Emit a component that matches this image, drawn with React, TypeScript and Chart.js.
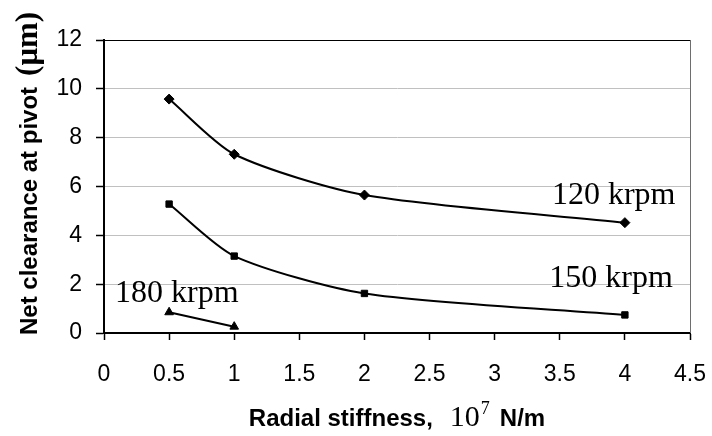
import React, { useEffect, useRef } from "react";
import { Chart, registerables } from "chart.js";

Chart.register(...registerables);

// Radial stiffness (10^7 N/m) and net clearance at the pivot (µm) per speed
const stiffness = [0.5, 1, 2, 4];
const clearance120 = [9.58, 7.32, 5.65, 4.52];
const clearance150 = [5.28, 3.15, 1.62, 0.74];
const stiffness180 = [0.5, 1];
const clearance180 = [0.85, 0.26];
const speedNames = ["120 krpm", "150 krpm", "180 krpm"];

const xMin = 0;
const xMax = 4.5;
const xStep = 0.5;
const yMin = 0;
const yMax = 12;
const yStep = 2;

const SANS = "Arial, 'Liberation Sans', sans-serif";
const SERIF = "'Times New Roman', 'Liberation Serif', serif";

// Where each speed label sits, in data units (left edge, baseline)
const speedLabelAnchors = [
  { x: 3.44, y: 5.28 },
  { x: 3.42, y: 1.9 },
  { x: 0.085, y: 1.26 },
];

const toPoints = (xs: number[], ys: number[]) => xs.map((x, i) => ({ x, y: ys[i] }));

const decorations = {
  id: "decorations",
  afterDraw(chart: any) {
    const { ctx, chartArea, scales } = chart;
    const xs = scales.x;
    const ys = scales.y;
    ctx.save();

    // Frame: black top edge, grey right edge
    ctx.lineWidth = 1;
    ctx.strokeStyle = "#000";
    ctx.beginPath();
    ctx.moveTo(chartArea.left, chartArea.top + 0.5);
    ctx.lineTo(chartArea.right, chartArea.top + 0.5);
    ctx.stroke();
    ctx.strokeStyle = "#6e6e6e";
    ctx.beginPath();
    ctx.moveTo(chartArea.right + 0.5, chartArea.top);
    ctx.lineTo(chartArea.right + 0.5, chartArea.bottom);
    ctx.stroke();

    // Speed labels beside each curve
    ctx.fillStyle = "#000";
    ctx.textBaseline = "alphabetic";
    ctx.textAlign = "left";
    ctx.font = `32px ${SERIF}`;
    speedNames.forEach((name, i) => {
      const a = speedLabelAnchors[i];
      ctx.fillText(name, xs.getPixelForValue(a.x), ys.getPixelForValue(a.y));
    });

    // X axis title: "Radial stiffness,  10^7 N/m"
    const boldSans = `bold 24px ${SANS}`;
    const parts = [
      { text: "Radial stiffness,", font: boldSans, rise: 0, gap: 17 },
      { text: "10", font: `30px ${SERIF}`, rise: 0, gap: 1 },
      { text: "7", font: `18px ${SERIF}`, rise: 12, gap: 10 },
      { text: "N/m", font: boldSans, rise: 0, gap: 0 },
    ];
    let total = 0;
    parts.forEach((p) => {
      ctx.font = p.font;
      total += ctx.measureText(p.text).width + p.gap;
    });
    let cx = (chartArea.left + chartArea.right) / 2 - total / 2;
    const baseX = 426;
    parts.forEach((p) => {
      ctx.font = p.font;
      ctx.fillText(p.text, cx, baseX - p.rise);
      cx += ctx.measureText(p.text).width + p.gap;
    });

    // Y axis title, rotated
    ctx.translate(37, 335);
    ctx.rotate(-Math.PI / 2);
    ctx.font = boldSans;
    const main = "Net clearance at pivot";
    ctx.fillText(main, 0, 0);
    const mainW = ctx.measureText(main).width;
    ctx.font = `bold 31px ${SERIF}`;
    ctx.fillText("(\u03bcm)", mainW + 11, 0);

    ctx.restore();
  },
};

export default function App() {
  const canvasRef = useRef<HTMLCanvasElement | null>(null);

  useEffect(() => {
    if (!canvasRef.current) return;
    const lineStyle = {
      borderColor: "#000",
      backgroundColor: "#000",
      borderWidth: 2,
      pointBorderColor: "#000",
      pointBackgroundColor: "#000",
      pointBorderWidth: 1,
      tension: 0.25,
      fill: false,
    };
    const chart = new Chart(canvasRef.current, {
      type: "line",
      data: {
        datasets: [
          {
            label: speedNames[0],
            data: toPoints(stiffness, clearance120),
            pointStyle: "rectRot",
            pointRadius: 5,
            ...lineStyle,
          },
          {
            label: speedNames[1],
            data: toPoints(stiffness, clearance150),
            pointStyle: "rect",
            pointRadius: 4.5,
            ...lineStyle,
          },
          {
            label: speedNames[2],
            data: toPoints(stiffness180, clearance180),
            pointStyle: "triangle",
            pointRadius: 5,
            ...lineStyle,
          },
        ],
      },
      options: {
        animation: false,
        responsive: true,
        maintainAspectRatio: false,
        layout: { padding: { left: 0, top: 40, right: 22, bottom: 0 } },
        plugins: {
          legend: { display: false },
          tooltip: { enabled: false },
          title: { display: false },
        },
        scales: {
          x: {
            type: "linear",
            min: xMin,
            max: xMax,
            afterFit: (s: any) => {
              s.height = 103;
              s.paddingLeft = 0;
              s.paddingRight = 0;
            },
            ticks: {
              stepSize: xStep,
              color: "#000",
              padding: 21,
              font: { family: SANS, size: 23 },
              callback: (v: any) => String(v),
            },
            grid: {
              drawOnChartArea: false,
              drawTicks: true,
              tickLength: 7,
              tickColor: "#000",
              tickWidth: 1.5,
            },
            border: { display: true, color: "#000", width: 2 },
          },
          y: {
            type: "linear",
            min: yMin,
            max: yMax,
            afterFit: (s: any) => {
              s.width = 104;
              s.paddingTop = 0;
              s.paddingBottom = 0;
            },
            ticks: {
              stepSize: yStep,
              color: "#000",
              padding: 14,
              font: { family: SANS, size: 23 },
              callback: (v: any) => String(v),
            },
            grid: {
              color: (c: any) => (c.tick && c.tick.value === yMax ? "#000" : "#c0c0c0"),
              lineWidth: 1,
              drawTicks: true,
              tickLength: 8,
              tickColor: "#000",
              tickWidth: 1.5,
            },
            border: { display: true, color: "#000", width: 2 },
          },
        },
      },
      plugins: [decorations],
    });
    return () => chart.destroy();
  }, []);

  return (
    <div
      style={{
        position: "fixed",
        left: 0,
        top: 0,
        width: 712,
        height: 436,
        background: "#fff",
      }}
    >
      <canvas ref={canvasRef} />
    </div>
  );
}
